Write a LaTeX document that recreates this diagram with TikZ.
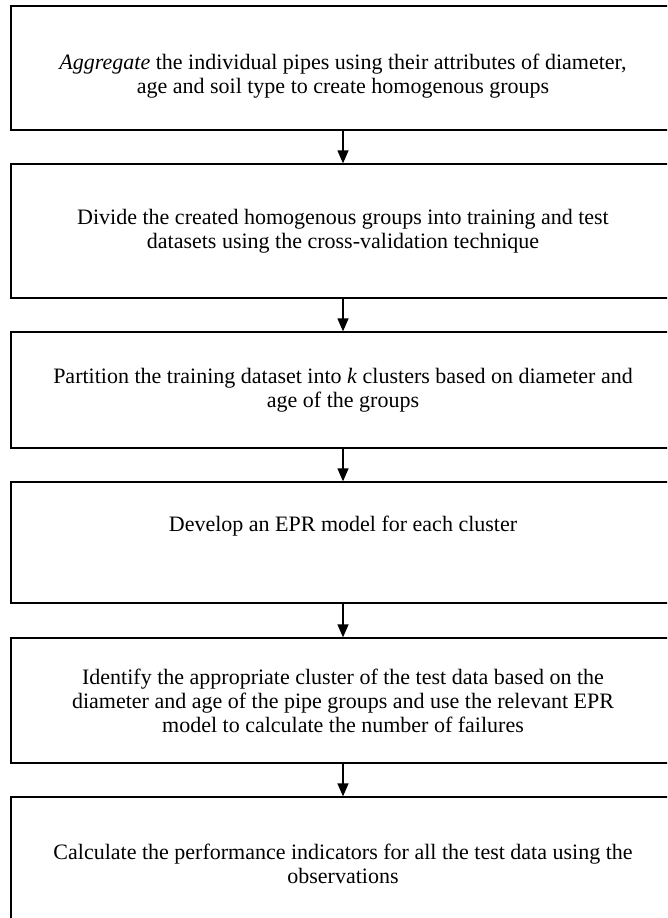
\documentclass[tikz,border=0pt]{standalone}
\usepackage{fontspec}
\setmainfont{Liberation Serif}
\usetikzlibrary{arrows.meta}

\tikzset{
  stepbox/.style={rectangle, draw, line width=1.3pt, minimum width=664pt, align=center, inner sep=0pt,
    font=\fontsize{22pt}{24pt}\selectfont},
  flow/.style={line width=1.3pt, -{Triangle[width=11pt,length=13pt]}}
}

\begin{document}
\begin{tikzpicture}
  \useasboundingbox (0,0) rectangle (667pt,-918pt);
  \clip (0,0) rectangle (667pt,-918pt);
  \node[stepbox, minimum height=124pt] (aggregate) at (343pt,-68pt)
    {\rule{0pt}{31pt}\textit{Aggregate} the individual pipes using their attributes of diameter,\\ age and soil type to create homogenous groups};
  \node[stepbox, minimum height=134pt] (divide) at (343pt,-231pt)
    {Divide the created homogenous groups into training and test\\ datasets using the cross-validation technique};
  \node[stepbox, minimum height=116pt] (partition) at (343pt,-390pt)
    {Partition the training dataset into \textit{k} clusters based on diameter and\\ age of the groups};
  \node[stepbox, minimum height=121pt] (develop) at (343pt,-542.5pt)
    {Develop an EPR model for each cluster\\[14pt]\mbox{}};
  \node[stepbox, minimum height=125pt] (identify) at (343pt,-700.5pt)
    {Identify the appropriate cluster of the test data based on the\\ diameter and age of the pipe groups and use the relevant EPR\\ model to calculate the number of failures};
  \node[stepbox, minimum height=134pt] (calculate) at (343pt,-864pt)
    {Calculate the performance indicators for all the test data using the\\ observations};
  \draw[flow] (aggregate) -- (divide);
  \draw[flow] (divide) -- (partition);
  \draw[flow] (partition) -- (develop);
  \draw[flow] (develop) -- (identify);
  \draw[flow] (identify) -- (calculate);
\end{tikzpicture}
\end{document}
